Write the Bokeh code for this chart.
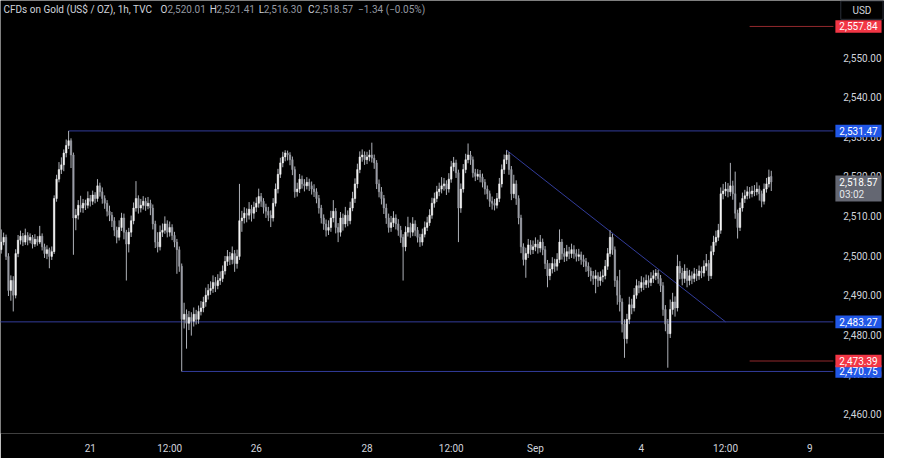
from bokeh.plotting import figure
from bokeh.models import ColumnDataSource, FixedTicker, Label, Range1d
from bokeh.embed import file_html
from bokeh.resources import INLINE
from bokeh.core.properties import value

# ---------------- data (1h candles, XAUUSD CFD) ----------------
closes = [
    2503.4, 2504.6, 2499.8, 2491.2, 2493.7, 2490.0, 2500.5, 2503.9, 2504.9, 2503.4,
    2505.1, 2503.9, 2504.6, 2502.9, 2504.1, 2503.4, 2504.9, 2502.2, 2500.5, 2501.5,
    2499.8, 2501.0, 2514.4, 2519.3, 2521.7, 2522.9, 2525.9, 2527.8, 2529.0, 2525.4,
    2509.5, 2510.2, 2512.7, 2512.0, 2513.2, 2512.7, 2514.4, 2513.7, 2515.3, 2514.4,
    2517.6, 2516.1, 2514.4, 2513.2, 2511.2, 2510.2, 2508.8, 2506.4, 2504.6, 2507.1,
    2509.5, 2505.9, 2502.9, 2505.9, 2508.8, 2512.0, 2514.4, 2512.0, 2512.7, 2513.7,
    2512.5, 2513.2, 2512.0, 2508.0, 2503.4, 2502.2, 2505.9, 2506.4, 2508.0, 2505.9,
    2507.1, 2505.1, 2503.4, 2501.5, 2497.3, 2483.9, 2485.2, 2482.9, 2484.4, 2483.4,
    2485.2, 2483.9, 2485.9, 2486.8, 2488.3, 2490.0, 2491.2, 2491.7, 2493.2, 2492.4,
    2493.7, 2494.2, 2496.1, 2498.5, 2499.8, 2499.0, 2500.5, 2498.0, 2499.8, 2508.8,
    2509.5, 2510.7, 2510.2, 2511.7, 2510.7, 2512.2, 2513.2, 2514.9, 2513.7, 2512.2,
    2511.2, 2510.2, 2509.5, 2513.2, 2516.8, 2520.5, 2523.4, 2524.9, 2525.9, 2525.4,
    2524.2, 2521.7, 2516.1, 2516.8, 2519.3, 2518.1, 2517.6, 2518.5, 2517.6, 2516.8,
    2516.1, 2514.4, 2512.0, 2509.5, 2508.0, 2506.4, 2507.1, 2509.5, 2511.2, 2507.1,
    2505.9, 2509.5, 2508.0, 2510.2, 2508.8, 2512.0, 2514.4, 2518.1, 2521.7, 2524.9,
    2525.4, 2524.2, 2524.9, 2525.4, 2524.6, 2523.4, 2518.1, 2516.1, 2514.4, 2512.0,
    2509.5, 2507.1, 2508.3, 2509.5, 2508.0, 2506.4, 2504.6, 2502.2, 2505.9, 2507.1,
    2505.9, 2508.0, 2506.4, 2504.6, 2503.4, 2505.4, 2507.1, 2508.3, 2510.2, 2513.2,
    2514.4, 2516.1, 2516.8, 2517.6, 2518.1, 2516.8, 2519.3, 2522.4, 2523.4, 2520.9,
    2512.0, 2516.8, 2521.7, 2524.2, 2525.4, 2524.2, 2520.9, 2520.0, 2520.5, 2519.8,
    2518.5, 2516.8, 2515.6, 2513.7, 2513.2, 2512.7, 2514.4, 2518.1, 2521.7, 2524.2,
    2525.4, 2521.7, 2515.6, 2518.1, 2514.4, 2509.5, 2502.2, 2499.0, 2500.5, 2502.7,
    2501.5, 2502.2, 2502.9, 2501.9, 2503.4, 2501.5, 2498.0, 2494.9, 2496.6, 2498.0,
    2497.3, 2499.0, 2503.4, 2500.5, 2499.8, 2501.0, 2500.5, 2501.5, 2500.5, 2499.8,
    2500.2, 2499.0, 2498.5, 2497.3, 2496.1, 2494.9, 2494.2, 2494.9, 2493.7, 2494.6,
    2494.9, 2497.3, 2500.5, 2504.6, 2501.5, 2493.7, 2490.0, 2488.3, 2482.7, 2479.0,
    2483.9, 2487.6, 2486.8, 2490.0, 2492.4, 2491.9, 2493.2, 2492.7, 2493.7, 2493.2,
    2494.2, 2494.9, 2495.6, 2494.2, 2492.4, 2486.4, 2482.7, 2480.3, 2486.4, 2488.3,
    2486.8, 2497.3, 2495.6, 2494.2, 2496.1, 2493.7, 2494.9, 2494.2, 2495.4, 2494.9,
    2496.1, 2495.6, 2497.3, 2498.0, 2494.9, 2501.0, 2503.4, 2504.6, 2506.4, 2515.6,
    2516.3, 2516.8, 2516.1, 2517.6, 2515.6, 2510.7, 2507.1, 2512.0, 2514.4, 2515.1,
    2516.1, 2515.6, 2516.3, 2516.1, 2516.8, 2515.6, 2513.7, 2516.8, 2518.1, 2519.8,
    2518.57,
]
opens = [
    2501.5, 2503.4, 2504.6, 2499.8, 2491.2, 2493.7, 2490.0, 2500.5, 2503.9, 2504.9,
    2503.4, 2505.1, 2503.9, 2504.6, 2502.9, 2504.1, 2503.4, 2504.9, 2502.2, 2500.5,
    2501.5, 2499.8, 2501.0, 2514.4, 2519.3, 2521.7, 2522.9, 2525.9, 2527.8, 2529.0,
    2525.4, 2509.5, 2510.2, 2512.7, 2512.0, 2513.2, 2512.7, 2514.4, 2513.7, 2515.3,
    2514.4, 2517.6, 2516.1, 2514.4, 2513.2, 2511.2, 2510.2, 2508.8, 2506.4, 2504.6,
    2507.1, 2509.5, 2505.9, 2502.9, 2505.9, 2508.8, 2512.0, 2514.4, 2512.0, 2512.7,
    2513.7, 2512.5, 2513.2, 2512.0, 2508.0, 2503.4, 2502.2, 2505.9, 2506.4, 2508.0,
    2505.9, 2507.1, 2505.1, 2503.4, 2501.5, 2497.3, 2483.9, 2485.2, 2482.9, 2484.4,
    2483.4, 2485.2, 2483.9, 2485.9, 2486.8, 2488.3, 2490.0, 2491.2, 2491.7, 2493.2,
    2492.4, 2493.7, 2494.2, 2496.1, 2498.5, 2499.8, 2499.0, 2500.5, 2498.0, 2499.8,
    2508.8, 2509.5, 2510.7, 2510.2, 2511.7, 2510.7, 2512.2, 2513.2, 2514.9, 2513.7,
    2512.2, 2511.2, 2510.2, 2509.5, 2513.2, 2516.8, 2520.5, 2523.4, 2524.9, 2525.9,
    2525.4, 2524.2, 2521.7, 2516.1, 2516.8, 2519.3, 2518.1, 2517.6, 2518.5, 2517.6,
    2516.8, 2516.1, 2514.4, 2512.0, 2509.5, 2508.0, 2506.4, 2507.1, 2509.5, 2511.2,
    2507.1, 2505.9, 2509.5, 2508.0, 2510.2, 2508.8, 2512.0, 2514.4, 2518.1, 2521.7,
    2524.9, 2525.4, 2524.2, 2524.9, 2525.4, 2524.6, 2523.4, 2518.1, 2516.1, 2514.4,
    2512.0, 2509.5, 2507.1, 2508.3, 2509.5, 2508.0, 2506.4, 2504.6, 2502.2, 2505.9,
    2507.1, 2505.9, 2508.0, 2506.4, 2504.6, 2503.4, 2505.4, 2507.1, 2508.3, 2510.2,
    2513.2, 2514.4, 2516.1, 2516.8, 2517.6, 2518.1, 2516.8, 2519.3, 2522.4, 2523.4,
    2520.9, 2512.0, 2516.8, 2521.7, 2524.2, 2525.4, 2524.2, 2520.9, 2520.0, 2520.5,
    2519.8, 2518.5, 2516.8, 2515.6, 2513.7, 2513.2, 2512.7, 2514.4, 2518.1, 2521.7,
    2524.2, 2525.4, 2521.7, 2515.6, 2518.1, 2514.4, 2509.5, 2502.2, 2499.0, 2500.5,
    2502.7, 2501.5, 2502.2, 2502.9, 2501.9, 2503.4, 2501.5, 2498.0, 2494.9, 2496.6,
    2498.0, 2497.3, 2499.0, 2503.4, 2500.5, 2499.8, 2501.0, 2500.5, 2501.5, 2500.5,
    2499.8, 2500.2, 2499.0, 2498.5, 2497.3, 2496.1, 2494.9, 2494.2, 2494.9, 2493.7,
    2494.6, 2494.9, 2497.3, 2500.5, 2504.6, 2501.5, 2493.7, 2490.0, 2488.3, 2482.7,
    2479.0, 2483.9, 2487.6, 2486.8, 2490.0, 2492.4, 2491.9, 2493.2, 2492.7, 2493.7,
    2493.2, 2494.2, 2494.9, 2495.6, 2494.2, 2492.4, 2486.4, 2482.7, 2480.3, 2486.4,
    2488.3, 2486.8, 2497.3, 2495.6, 2494.2, 2496.1, 2493.7, 2494.9, 2494.2, 2495.4,
    2494.9, 2496.1, 2495.6, 2497.3, 2498.0, 2494.9, 2501.0, 2503.4, 2504.6, 2506.4,
    2515.6, 2516.3, 2516.8, 2516.1, 2517.6, 2515.6, 2510.7, 2507.1, 2512.0, 2514.4,
    2515.1, 2516.1, 2515.6, 2516.3, 2516.1, 2516.8, 2515.6, 2513.7, 2516.8, 2518.1,
    2520.01,
]
highs = [
    2506.6, 2505.8, 2505.3, 2500.6, 2495.0, 2494.8, 2501.6, 2505.2, 2506.3, 2505.7,
    2506.8, 2505.9, 2505.6, 2505.2, 2505.4, 2504.9, 2507.5, 2505.6, 2503.0, 2502.6,
    2502.0, 2502.3, 2515.2, 2520.4, 2523.6, 2524.8, 2526.8, 2529.3, 2531.47, 2529.6,
    2526.0, 2511.8, 2514.0, 2515.1, 2514.3, 2514.1, 2516.2, 2515.3, 2516.4, 2516.0,
    2519.3, 2518.4, 2517.2, 2515.2, 2514.0, 2512.6, 2511.0, 2509.7, 2507.3, 2508.9,
    2510.8, 2510.6, 2506.5, 2507.0, 2510.1, 2513.4, 2518.8, 2515.2, 2514.3, 2515.0,
    2514.6, 2514.8, 2514.1, 2512.9, 2508.8, 2505.9, 2507.6, 2508.1, 2509.9, 2508.9,
    2508.6, 2507.9, 2506.0, 2504.2, 2502.3, 2498.0, 2488.1, 2486.4, 2486.0, 2485.7,
    2486.9, 2486.3, 2487.4, 2488.5, 2489.6, 2491.9, 2492.8, 2493.5, 2495.0, 2494.6,
    2495.3, 2496.0, 2497.5, 2499.9, 2501.4, 2500.9, 2502.3, 2501.4, 2501.5, 2518.1,
    2511.3, 2512.2, 2511.9, 2513.5, 2512.8, 2513.6, 2514.7, 2516.9, 2515.8, 2514.5,
    2513.1, 2512.3, 2511.4, 2514.5, 2518.2, 2521.9, 2524.7, 2526.2, 2526.6, 2526.5,
    2526.1, 2525.0, 2522.5, 2518.4, 2520.6, 2520.2, 2519.3, 2519.8, 2519.4, 2518.7,
    2518.0, 2517.0, 2515.3, 2512.8, 2510.4, 2509.1, 2508.9, 2511.3, 2514.0, 2512.0,
    2508.2, 2511.0, 2510.6, 2512.3, 2511.4, 2513.6, 2516.1, 2519.5, 2523.2, 2526.3,
    2526.8, 2526.3, 2526.2, 2526.7, 2528.5, 2525.5, 2524.1, 2519.2, 2517.3, 2515.3,
    2513.1, 2510.6, 2510.0, 2511.2, 2510.4, 2509.2, 2507.5, 2505.4, 2507.4, 2509.8,
    2508.3, 2509.7, 2508.9, 2507.2, 2505.5, 2506.8, 2508.6, 2509.8, 2511.7, 2514.6,
    2515.9, 2517.6, 2518.4, 2519.8, 2519.6, 2519.0, 2520.8, 2523.9, 2524.9, 2524.2,
    2521.7, 2518.2, 2523.1, 2525.7, 2528.3, 2526.4, 2525.0, 2521.9, 2521.8, 2521.6,
    2520.7, 2519.3, 2517.7, 2516.4, 2514.9, 2514.3, 2515.8, 2519.6, 2523.0, 2525.5,
    2526.6, 2526.1, 2522.6, 2520.4, 2519.0, 2515.2, 2510.3, 2503.1, 2502.0, 2504.2,
    2503.9, 2503.8, 2504.6, 2504.0, 2505.2, 2504.3, 2502.4, 2498.9, 2498.1, 2499.6,
    2499.2, 2500.6, 2506.6, 2504.2, 2501.9, 2502.7, 2502.2, 2503.0, 2502.6, 2501.6,
    2501.7, 2501.0, 2500.2, 2499.4, 2498.3, 2497.0, 2496.1, 2496.4, 2495.8, 2496.0,
    2496.5, 2498.9, 2501.9, 2506.4, 2505.5, 2502.3, 2494.8, 2496.4, 2489.2, 2483.9,
    2485.3, 2489.6, 2489.1, 2491.8, 2494.0, 2493.6, 2494.8, 2494.5, 2495.2, 2495.0,
    2495.8, 2496.3, 2496.6, 2496.4, 2495.1, 2493.3, 2487.5, 2484.0, 2488.9, 2490.6,
    2489.7, 2500.2, 2498.6, 2496.9, 2497.8, 2496.9, 2496.4, 2496.0, 2496.9, 2496.6,
    2497.5, 2497.2, 2498.8, 2500.4, 2498.9, 2502.5, 2505.0, 2506.3, 2508.0, 2517.2,
    2518.1, 2518.6, 2518.3, 2523.4, 2518.9, 2521.2, 2511.6, 2513.4, 2515.9, 2516.6,
    2517.5, 2517.3, 2517.6, 2517.8, 2518.5, 2517.7, 2516.4, 2518.2, 2519.6, 2521.7,
    2521.41,
]
lows = [
    2500.5, 2502.6, 2498.9, 2489.8, 2488.6, 2485.9, 2489.2, 2499.6, 2502.8, 2502.4,
    2502.7, 2502.6, 2503.1, 2501.8, 2502.2, 2502.5, 2502.9, 2501.3, 2499.4, 2499.1,
    2496.8, 2498.9, 2500.4, 2513.6, 2518.5, 2520.6, 2521.3, 2524.8, 2526.9, 2522.1,
    2500.2, 2506.4, 2509.1, 2510.9, 2510.8, 2511.5, 2511.9, 2512.4, 2512.8, 2513.2,
    2513.6, 2514.9, 2513.1, 2511.8, 2509.9, 2508.7, 2507.2, 2504.9, 2503.1, 2503.8,
    2506.2, 2504.1, 2493.7, 2500.8, 2504.7, 2507.9, 2511.1, 2510.6, 2510.9, 2511.6,
    2511.3, 2511.7, 2510.2, 2506.6, 2501.9, 2500.8, 2501.3, 2504.7, 2505.5, 2504.6,
    2504.8, 2503.9, 2502.1, 2495.4, 2495.9, 2470.75, 2481.6, 2476.5, 2481.2, 2479.8,
    2482.1, 2482.6, 2482.8, 2484.9, 2485.7, 2487.1, 2488.9, 2490.1, 2490.6, 2490.8,
    2491.5, 2492.6, 2493.3, 2495.2, 2497.4, 2497.6, 2497.8, 2495.9, 2496.7, 2498.9,
    2506.0, 2508.1, 2508.4, 2509.1, 2508.6, 2509.3, 2511.0, 2512.1, 2512.3, 2510.6,
    2509.5, 2508.7, 2507.2, 2508.6, 2512.4, 2515.7, 2519.6, 2522.3, 2523.8, 2524.0,
    2522.8, 2520.3, 2514.6, 2514.9, 2515.8, 2516.9, 2516.2, 2516.7, 2516.3, 2515.4,
    2514.8, 2513.2, 2510.6, 2508.1, 2506.5, 2504.8, 2505.2, 2506.0, 2508.4, 2505.6,
    2503.4, 2504.8, 2506.3, 2507.1, 2507.4, 2507.9, 2511.2, 2513.3, 2517.0, 2520.8,
    2523.7, 2522.9, 2523.1, 2523.8, 2523.5, 2521.9, 2516.8, 2514.7, 2512.9, 2510.5,
    2508.0, 2505.8, 2506.0, 2507.2, 2506.6, 2505.0, 2503.2, 2493.7, 2501.1, 2504.8,
    2504.5, 2504.9, 2504.9, 2503.3, 2502.2, 2502.5, 2504.6, 2506.2, 2507.5, 2509.3,
    2512.1, 2513.5, 2515.0, 2515.7, 2516.4, 2515.3, 2515.9, 2518.4, 2521.3, 2519.6,
    2503.4, 2510.8, 2515.9, 2520.8, 2523.3, 2522.9, 2519.7, 2518.8, 2519.1, 2518.5,
    2517.2, 2515.4, 2514.2, 2512.3, 2511.6, 2511.4, 2511.9, 2513.5, 2517.2, 2520.6,
    2523.1, 2520.4, 2514.0, 2514.5, 2512.8, 2507.9, 2500.6, 2497.5, 2494.4, 2499.4,
    2500.2, 2500.4, 2501.1, 2500.5, 2500.8, 2500.1, 2496.6, 2492.0, 2493.8, 2495.5,
    2495.9, 2496.2, 2498.1, 2499.0, 2498.4, 2498.6, 2499.1, 2499.4, 2499.2, 2498.5,
    2498.6, 2497.7, 2497.1, 2495.9, 2494.6, 2493.5, 2492.6, 2490.5, 2492.1, 2492.4,
    2493.3, 2494.0, 2496.4, 2499.7, 2500.2, 2492.1, 2487.6, 2485.9, 2480.6, 2474.2,
    2477.8, 2482.7, 2485.2, 2485.9, 2489.1, 2490.5, 2490.9, 2491.3, 2491.8, 2491.9,
    2492.3, 2493.1, 2493.8, 2492.9, 2490.8, 2484.8, 2480.9, 2471.7, 2479.2, 2485.1,
    2484.6, 2485.9, 2494.0, 2492.5, 2493.1, 2492.0, 2492.5, 2492.8, 2493.3, 2493.6,
    2493.9, 2494.3, 2494.7, 2496.2, 2493.6, 2494.1, 2500.1, 2502.5, 2503.7, 2505.5,
    2514.2, 2515.0, 2514.7, 2515.0, 2514.1, 2509.3, 2504.3, 2506.2, 2511.1, 2513.3,
    2514.2, 2514.4, 2514.7, 2515.0, 2515.2, 2513.9, 2512.2, 2512.9, 2515.9, 2517.2,
    2516.30,
]

tick_bars = [37, 70, 106, 152, 187, 222, 266, 301, 336]
tick_labels = ["21", "12:00", "26", "28", "12:00", "Sep", "4", "12:00", "9"]
price_ticks = [2460, 2470, 2480, 2490, 2500, 2510, 2520, 2530, 2540, 2550]

level_prices = [2531.47, 2483.27, 2470.75]
level_start_bars = [28, -20, 75]
level_tags = ["2,531.47", "2,483.27", "2,470.75"]
alert_prices = [2557.84, 2473.39]
alert_start_bars = [311, 311]
alert_tags = ["2,557.84", "2,473.39"]
trend_bars = [210, 301]
trend_prices = [2526.6, 2483.27]

last_price = 2518.57
last_tag = "2,518.57"
countdown = "03:02"
header = "CFDs on Gold (US$ / OZ), 1h, TVC"
ohlc_letters = ["O", "H", "L", "C"]
ohlc_values = ["2,520.01", "2,521.41", "2,516.30", "2,518.57"]
change_text = "\u22121.34 (\u22120.05%)"
currency = "USD"

# ---------------- layout ----------------
W, H = 884, 458
FH = 433                      # frame height (bottom 25px for the time axis)
KX, KY = W / 900, H / 474     # reference pixel -> page pixel
X0 = -0.3
PPX = 2.45 * KX               # pixels per bar
X1 = X0 + W / PPX
Y1 = 2564.39
PPY = 4.1 * KY                # pixels per dollar
Y0 = Y1 - FH / PPY


def rx(px):   # reference x pixel -> bar coordinate
    return X0 + px * KX / PPX


def ry(py):   # reference y pixel -> price coordinate
    return Y1 - py * KY / PPY


FONT = "Roboto"
TXT = "#d1d4dc"
GREY = "#9598a1"
BLUE_LINE = "#323c9a"
BLUE_TAG = "#2157e6"
RED_LINE = "#92292d"
RED_TAG = "#f23645"
END = X1 + 5

n = min(len(closes), len(opens), len(highs), len(lows))
bars = list(range(n))
o = opens[:n]
c = closes[:n]
body_top = [max(a, b) for a, b in zip(o, c)]
body_bot = [min(a, b) for a, b in zip(o, c)]
colors = ["#f4f4f4" if b >= a else "#9a9da5" for a, b in zip(o, c)]

src = ColumnDataSource(dict(x=bars, high=highs[:n], low=lows[:n],
                            top=body_top, bottom=body_bot, color=colors))

p = figure(width=W, height=H, x_range=Range1d(X0, X1), y_range=Range1d(Y0, Y1),
           y_axis_location=None, output_backend="svg", toolbar_location=None,
           background_fill_color="#000000", border_fill_color="#000000",
           min_border=0, min_border_bottom=H - FH)
p.outline_line_color = None
p.grid.visible = False

# time axis
p.xaxis.ticker = FixedTicker(ticks=tick_bars)
p.xaxis.major_label_overrides = {b: t for b, t in zip(tick_bars, tick_labels)}
p.xaxis.axis_line_color = None
p.xaxis.major_tick_line_color = None
p.xaxis.minor_tick_line_color = None
p.xaxis.major_tick_out = 0
p.xaxis.major_tick_in = 0
p.xaxis.major_label_text_color = TXT
p.xaxis.major_label_text_font = FONT
p.xaxis.major_label_text_font_size = "10px"
p.xaxis.major_label_standoff = 9

# horizontal levels, alerts and trend line
plot_right = rx(848)
p.segment(x0=level_start_bars, y0=level_prices, x1=[plot_right] * len(level_prices),
          y1=level_prices, line_color=BLUE_LINE, line_width=1)
p.segment(x0=alert_start_bars, y0=alert_prices, x1=[plot_right] * len(alert_prices),
          y1=alert_prices, line_color=RED_LINE, line_width=1)
p.line(trend_bars, trend_prices, line_color=BLUE_LINE, line_width=1)

# candles
p.segment(x0="x", y0="high", x1="x", y1="low", source=src, line_color="#aeb1b8", line_width=1)
p.vbar(x="x", width=0.62, top="top", bottom="bottom", source=src,
       fill_color="color", line_color="color", line_width=0.5)

# price scale (right side)
price_text = [f"{v:,.2f}" for v in price_ticks]
p.text(x=[rx(858)] * len(price_ticks), y=price_ticks, text=price_text,
       text_color=TXT, text_font=value(FONT), text_font_size="10px",
       text_baseline="middle", text_align="left")

# price tags
tag_cx = rx(873.5)
tag_w, tag_h = 47 * KX, 13 * KY
p.rect(x=[tag_cx] * len(level_prices), y=level_prices, width=tag_w, height=tag_h,
       width_units="screen", height_units="screen", fill_color=BLUE_TAG, line_color=None)
p.rect(x=[tag_cx] * len(alert_prices), y=alert_prices, width=tag_w, height=tag_h,
       width_units="screen", height_units="screen", fill_color=RED_TAG, line_color=None)
# last price tag (two rows)
p.rect(x=[tag_cx], y=[last_price - 6.5 / PPY], width=tag_w, height=27 * KY,
       width_units="screen", height_units="screen", fill_color="#646772", line_color=None)
tag_text_x = rx(854)
p.text(x=[tag_text_x] * 6, y=level_prices + alert_prices + [last_price],
       text=level_tags + alert_tags + [last_tag],
       text_color="#ffffff", text_font=value(FONT), text_font_size="10px",
       text_baseline="middle", text_align="left")
p.text(x=[tag_text_x], y=[last_price], y_offset=13 * KY, text=[countdown],
       text_color="#e6e7ea", text_font=value(FONT), text_font_size="10px",
       text_baseline="middle", text_align="left")

# currency box
p.rect(x=[rx(877)], y=[ry(10)], width=43 * KX, height=19 * KY,
       width_units="screen", height_units="screen", fill_color="#000000",
       line_color="#2a2e39", line_width=1)
p.text(x=[rx(877)], y=[ry(10)], text=[currency], text_color=TXT,
       text_font=value(FONT), text_font_size="10px",
       text_baseline="middle", text_align="center")

# header / legend line
p.add_layout(Label(x=rx(3), y=ry(9), text=header, text_color=TXT, text_font=FONT,
                   text_font_size="10px", text_baseline="middle"))
letter_px = [163, 213, 263, 313]
value_px = [170, 220, 268, 320]
for lp, vp, letter, val in zip(letter_px, value_px, ohlc_letters, ohlc_values):
    p.add_layout(Label(x=rx(lp), y=ry(9), text=letter, text_color=TXT, text_font=FONT,
                       text_font_size="10px", text_baseline="middle"))
    p.add_layout(Label(x=rx(vp), y=ry(9), text=val, text_color=GREY, text_font=FONT,
                       text_font_size="10px", text_baseline="middle"))
p.add_layout(Label(x=rx(364), y=ry(9), text=change_text, text_color=GREY, text_font=FONT,
                   text_font_size="10px", text_baseline="middle"))

open("out.html", "w").write(file_html(p, INLINE, "CFDs on Gold"))
